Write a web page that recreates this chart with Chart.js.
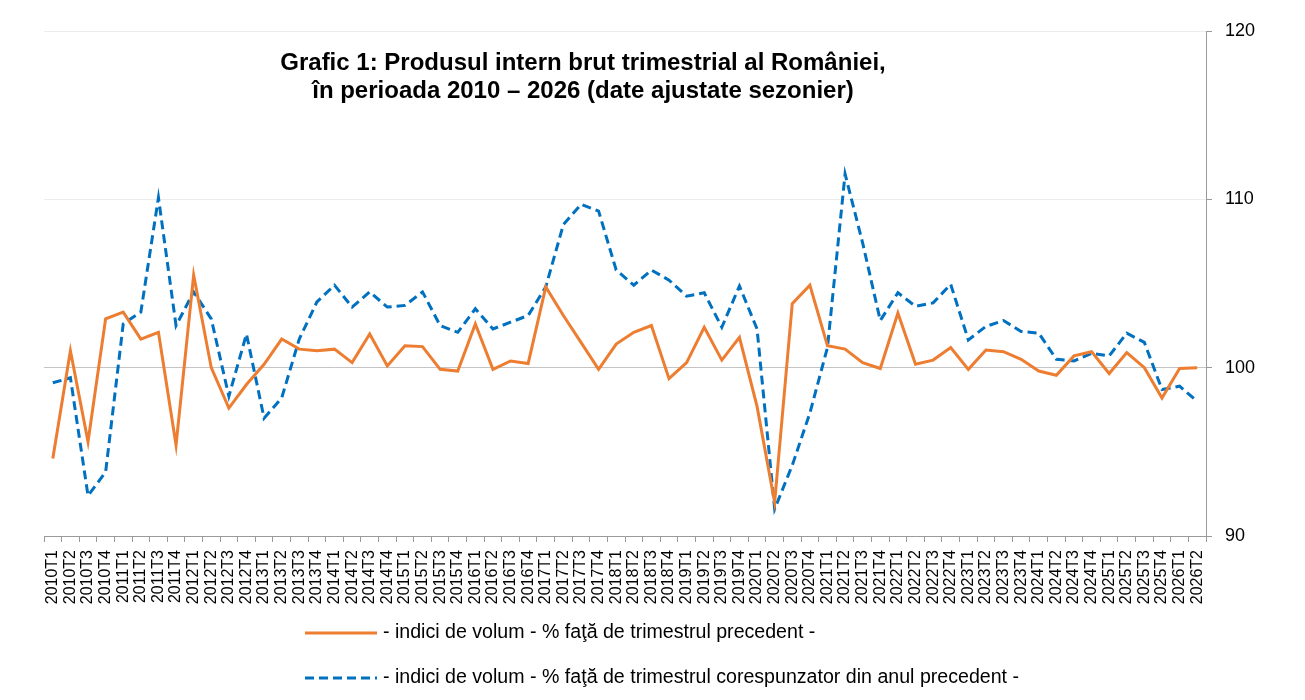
<!DOCTYPE html>
<html><head><meta charset="utf-8">
<script src="https://cdn.jsdelivr.net/npm/chart.js@4/dist/chart.umd.min.js"></script>
<style>html,body{margin:0;padding:0;background:#fff;}#wrap{width:1305px;height:700px;position:relative;}</style>
</head><body><div id="wrap"><canvas id="c" width="1305" height="700"></canvas></div>
<script>
const categories = [
 "2010T1","2010T2","2010T3","2010T4","2011T1","2011T2","2011T3","2011T4",
 "2012T1","2012T2","2012T3","2012T4","2013T1","2013T2","2013T3","2013T4",
 "2014T1","2014T2","2014T3","2014T4","2015T1","2015T2","2015T3","2015T4",
 "2016T1","2016T2","2016T3","2016T4","2017T1","2017T2","2017T3","2017T4",
 "2018T1","2018T2","2018T3","2018T4","2019T1","2019T2","2019T3","2019T4",
 "2020T1","2020T2","2020T3","2020T4","2021T1","2021T2","2021T3","2021T4",
 "2022T1","2022T2","2022T3","2022T4","2023T1","2023T2","2023T3","2023T4",
 "2024T1","2024T2","2024T3","2024T4","2025T1","2025T2","2025T3","2025T4",
 "2026T1","2026T2"];
const qoqValues = [
 94.6,101.0,95.6,102.9,103.3,101.7,102.1,95.4,
 105.5,100.0,97.6,99.0,100.2,101.7,101.1,101.0,
 101.1,100.3,102.0,100.1,101.3,101.25,99.9,99.8,
 102.6,99.9,100.4,100.25,104.8,103.1,101.5,99.9,
 101.4,102.1,102.5,99.35,100.3,102.4,100.45,101.8,
 97.7,92.0,103.8,104.9,101.3,101.1,100.3,99.95,
 103.25,100.2,100.45,101.2,99.9,101.05,100.95,100.5,
 99.8,99.55,100.7,100.95,99.65,100.9,100.0,98.2,
 99.95,100.0];
const yoyValues = [
 99.1,99.4,92.4,93.8,102.6,103.3,110.1,102.5,
 104.5,102.9,98.3,102.0,97.0,98.2,101.7,103.9,
 104.9,103.6,104.5,103.6,103.7,104.5,102.5,102.1,
 103.5,102.3,102.7,103.1,104.8,108.5,109.7,109.3,
 105.8,104.9,105.8,105.2,104.25,104.45,102.4,104.85,
 102.3,91.6,94.2,97.3,101.2,111.5,107.4,102.8,
 104.45,103.65,103.85,104.95,101.65,102.45,102.8,102.15,
 102.05,100.5,100.4,100.85,100.7,102.05,101.5,98.7,
 98.9,98.0];
const yTicks = [90,100,110,120];
const titleLines = ["Grafic 1: Produsul intern brut trimestrial al României,","în perioada 2010 – 2026 (date ajustate sezonier)"];
const seriesLabels = ["- indici de volum - % faţă de trimestrul precedent -","- indici de volum - % faţă de trimestrul corespunzator din anul precedent -"];

const FONT = '"Liberation Sans", Arial, sans-serif';

const titlePlugin = {
  id:'titleDraw',
  afterDraw(chart){
    const ctx = chart.ctx;
    ctx.save();
    ctx.fillStyle = '#000';
    ctx.font = 'bold 24px ' + FONT;
    ctx.textAlign = 'center';
    ctx.textBaseline = 'middle';
    titleLines.forEach((t,i)=> ctx.fillText(t, 583, 63 + i*28));
    ctx.restore();
  }
};
const legendPlugin = {
  id:'legendDraw',
  afterDraw(chart){
    const ctx = chart.ctx;
    const rows = [633, 678];
    chart.data.datasets.forEach((ds,i)=>{
      const y = rows[i];
      ctx.save();
      ctx.strokeStyle = ds.borderColor;
      ctx.lineWidth = 3;
      ctx.setLineDash(ds.borderDash || []);
      ctx.beginPath(); ctx.moveTo(305,y); ctx.lineTo(377,y); ctx.stroke();
      ctx.setLineDash([]);
      ctx.fillStyle = '#000';
      ctx.font = '19.6px ' + FONT;
      ctx.textBaseline = 'middle';
      ctx.textAlign = 'left';
      ctx.fillText(ds.label, 383, y);
      ctx.restore();
    });
  }
};

new Chart(document.getElementById('c'), {
  type:'line',
  data:{
    labels: categories,
    datasets:[
      {label:seriesLabels[0], data:qoqValues, borderColor:'#ED7D31', backgroundColor:'#ED7D31', borderWidth:3, pointRadius:0, tension:0},
      {label:seriesLabels[1], data:yoyValues, borderColor:'#0070C0', backgroundColor:'#0070C0', borderWidth:3, borderDash:[9,5], pointRadius:0, tension:0}
    ]
  },
  options:{
    responsive:false, animation:false, devicePixelRatio:1,
    layout:{padding:{left:44,right:39,top:31,bottom:90}},
    plugins:{legend:{display:false}, title:{display:false}, tooltip:{enabled:false}},
    scales:{
      x:{
        type:'category', offset:true,
        grid:{offset:true, drawOnChartArea:false, drawTicks:true, tickLength:6, color:'#9a9a9a'},
        border:{color:'#9a9a9a'},
        ticks:{autoSkip:false, minRotation:90, maxRotation:90, color:'#000', padding:8, font:{family:FONT, size:16}},
        afterFit(s){ s.height = 74; }
      },
      y:{
        position:'right', min:90, max:120,
        afterBuildTicks(s){ s.ticks = yTicks.map(v=>({value:v})); },
        grid:{color:(c)=> c.tick && c.tick.value===100 ? '#c4c4c4' : '#ececec', drawTicks:true, tickLength:6, tickColor:'#9a9a9a'},
        border:{color:'#9a9a9a'},
        ticks:{color:'#000', padding:13, font:{family:FONT, size:18}},
        afterFit(s){ s.width = 60; }
      }
    }
  },
  plugins:[titlePlugin, legendPlugin]
});
</script></body></html>
